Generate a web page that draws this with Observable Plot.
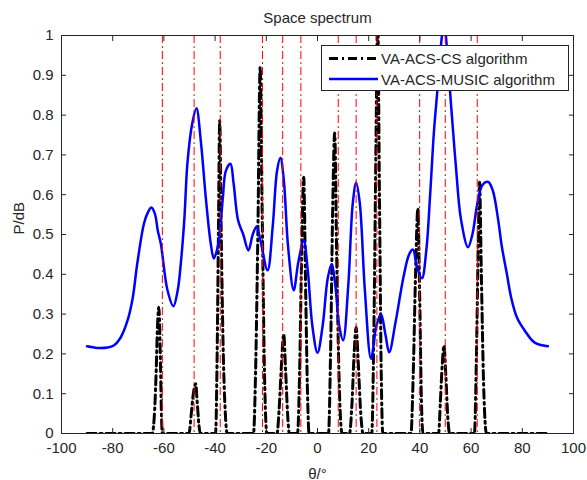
<!DOCTYPE html>
<html><head><meta charset="utf-8">
<script src="https://cdn.jsdelivr.net/npm/d3@7"></script>
<script src="https://cdn.jsdelivr.net/npm/@observablehq/plot@0.6"></script>
<style>
html,body{margin:0;padding:0;background:#fff;}
#wrap{position:relative;width:587px;height:480px;}
</style></head><body><div id="wrap"></div>
<script>
const titleText = "Space spectrum";
const xLabel = "θ/°";
const yLabel = "P/dB";
const seriesNames = ["VA-ACS-CS algorithm", "VA-ACS-MUSIC algorithm"];
const xTicks = [-100, -80, -60, -40, -20, 0, 20, 40, 60, 80, 100];
const yTicks = [0, 0.1, 0.2, 0.3, 0.4, 0.5, 0.6, 0.7, 0.8, 0.9, 1];

// true source directions (red dash-dot lines)
const redTheta = [-60.6, -48.2, -38, -21.5, -13.6, -6.5, 8.1, 15.1, 23.2, 39.9, 49.9, 62.4];

// VA-ACS-MUSIC spectrum
const musicTheta = [-90,-86,-82,-79.6,-77,-74.2,-72.2,-70.4,-67.8,-66.3,-64.9,-63.5,-62.4,-61.2,-58.6,-56.3,-54.6,-53.4,-52,-50.8,-48.9,-47.3,-45.6,-43.6,-41.7,-40.5,-39.3,-38.4,-37,-35.8,-34,-32.8,-31,-29,-27,-25.3,-23.8,-22.3,-19.5,-17.5,-15.8,-14.5,-13.2,-11.5,-9.3,-7.5,-5.4,-3.8,-2,0,2,4,5.5,7,8.5,10,12,13.8,15.1,16.5,18.5,20.9,23,24.8,26.5,28,30.5,33.5,35.8,37.3,38.8,40.8,42.5,44,45.5,46.8,48,49.4,50.8,52,53.2,54.2,56,58.8,60.5,62.5,64.5,66.7,68.5,70.5,72,74,75.7,78,80.8,84.7,90];
const musicP     = [0.219,0.215,0.216,0.221,0.24,0.284,0.34,0.427,0.527,0.555,0.568,0.552,0.51,0.477,0.36,0.32,0.36,0.427,0.54,0.68,0.78,0.817,0.736,0.59,0.477,0.44,0.46,0.49,0.59,0.66,0.678,0.63,0.535,0.5,0.46,0.5,0.52,0.485,0.41,0.52,0.66,0.693,0.64,0.47,0.36,0.43,0.485,0.41,0.27,0.203,0.27,0.39,0.425,0.37,0.27,0.234,0.37,0.58,0.63,0.58,0.36,0.188,0.27,0.3,0.25,0.204,0.28,0.39,0.45,0.462,0.42,0.39,0.46,0.6,0.76,0.86,0.96,1.03,0.95,0.84,0.74,0.66,0.54,0.468,0.5,0.58,0.625,0.632,0.61,0.54,0.47,0.4,0.34,0.29,0.26,0.229,0.219];

// VA-ACS-CS spectrum
const csTheta = [-90,-64.6,-63.6,-63,-62.5,-62,-61.4,-61,-60.6,
  -50.2,-49.3,-48.5,-47.6,-47,-46.3,-45.8,
  -39.8,-39.2,-38.7,-38.2,-37.6,-36.8,-36,-35.3,
  -25,-24.2,-23.3,-22.4,-21.6,-20.7,-19.8,
  -15.8,-15,-14.1,-13.2,-12.4,-11.6,-11,
  -7.8,-7,-6.2,-5.4,-4.6,-3.9,-3.3,
  4.3,5.1,5.9,6.7,7.6,8.6,9.6,
  12.5,13.5,14.3,15.1,15.9,16.9,17.8,
  21.2,22,22.8,23.5,24.2,24.9,25.5,
  36.5,37.4,38.3,39.2,39.9,40.6,41.2,
  47.3,48,48.7,49.4,50.1,50.9,51.6,
  61.3,62.1,62.8,63.3,64,64.9,66,
  90];
const csP = [0,0,0.06,0.16,0.27,0.317,0.2,0.06,0,
  0,0.05,0.1,0.125,0.08,0.02,0,
  0,0.2,0.5,0.786,0.5,0.2,0.05,0,
  0,0.15,0.5,0.92,0.55,0.15,0,
  0,0.06,0.17,0.25,0.15,0.04,0,
  0,0.15,0.45,0.644,0.35,0.1,0,
  0,0.2,0.55,0.755,0.4,0.1,0,
  0,0.08,0.2,0.267,0.18,0.05,0,
  0,0.25,0.7,1.05,0.6,0.15,0,
  0,0.15,0.4,0.565,0.35,0.08,0,
  0,0.08,0.17,0.221,0.15,0.04,0,
  0,0.2,0.48,0.631,0.4,0.12,0,
  0];

const music = musicTheta.map((t, i) => ({theta: t, p: musicP[i]}));
const cs = csTheta.map((t, i) => ({theta: t, p: csP[i]}));

const FONT = "'Liberation Sans', Arial, Helvetica, sans-serif";
const INK = "#262626";
const csDash = "9,4,2,4";
const redDash = "8,3,2,3";

const chart = Plot.plot({
  width: 587, height: 480,
  marginLeft: 61, marginRight: 14, marginTop: 35, marginBottom: 47,
  x: {domain: [-100, 100]},
  y: {domain: [0, 1]},
  style: {fontFamily: FONT, fontSize: "15px", color: INK, background: "#fff", overflow: "visible"},
  marks: [
    Plot.line(cs, {x: "theta", y: "p", stroke: "#000", strokeWidth: 3, strokeDasharray: csDash, curve: "monotone-x", clip: true}),
    Plot.line(music, {x: "theta", y: "p", stroke: "#0000ff", strokeWidth: 2.5, curve: "catmull-rom", clip: true}),
    Plot.ruleX(redTheta, {x: d => d, stroke: "#ff0000", strokeWidth: 1, strokeDasharray: redDash}),
    Plot.frame({stroke: INK, strokeWidth: 1}),
    Plot.axisX({ticks: xTicks, anchor: "bottom", tickSize: -5, tickPadding: 14, tickFormat: d => String(d), label: null, stroke: INK}),
    Plot.axisX({ticks: xTicks, anchor: "top", tickSize: -5, tickFormat: () => "", label: null, stroke: INK}),
    Plot.axisY({ticks: yTicks, anchor: "left", tickSize: -5, tickPadding: 13, tickFormat: d => String(d), label: null, stroke: INK}),
    Plot.axisY({ticks: yTicks, anchor: "right", tickSize: -5, tickFormat: () => "", label: null, stroke: INK}),
    Plot.text([titleText], {text: d => d, frameAnchor: "top", dy: -13, lineAnchor: "bottom", fill: INK}),
    Plot.text([xLabel], {text: d => d, frameAnchor: "bottom", dy: 45, lineAnchor: "bottom", fill: INK}),
    Plot.text([yLabel], {text: d => d, frameAnchor: "left", dx: -42, rotate: -90, fill: INK})
  ]
});
document.getElementById("wrap").appendChild(chart);

// legend overlay (inside axes, top right)
const leg = d3.select("#wrap").append("svg")
  .attr("width", 587).attr("height", 480)
  .style("position", "absolute").style("left", "0px").style("top", "0px");
leg.append("rect").attr("x", 321.5).attr("y", 45.5).attr("width", 247).attr("height", 45)
  .attr("fill", "#fff").attr("stroke", INK).attr("stroke-width", 1);
const legStyles = [
  {stroke: "#000", width: 3, dash: csDash},
  {stroke: "#0000ff", width: 2.5, dash: null}
];
seriesNames.forEach((name, i) => {
  const cy = 58.5 + i * 20.5;
  const ln = leg.append("line").attr("x1", 329).attr("x2", 378).attr("y1", cy).attr("y2", cy)
    .attr("stroke", legStyles[i].stroke).attr("stroke-width", legStyles[i].width);
  if (legStyles[i].dash) ln.attr("stroke-dasharray", legStyles[i].dash);
  leg.append("text").attr("x", 381).attr("y", cy + 5.5).text(name)
    .attr("font-family", FONT).attr("font-size", 15).attr("fill", INK);
});
</script></body></html>
